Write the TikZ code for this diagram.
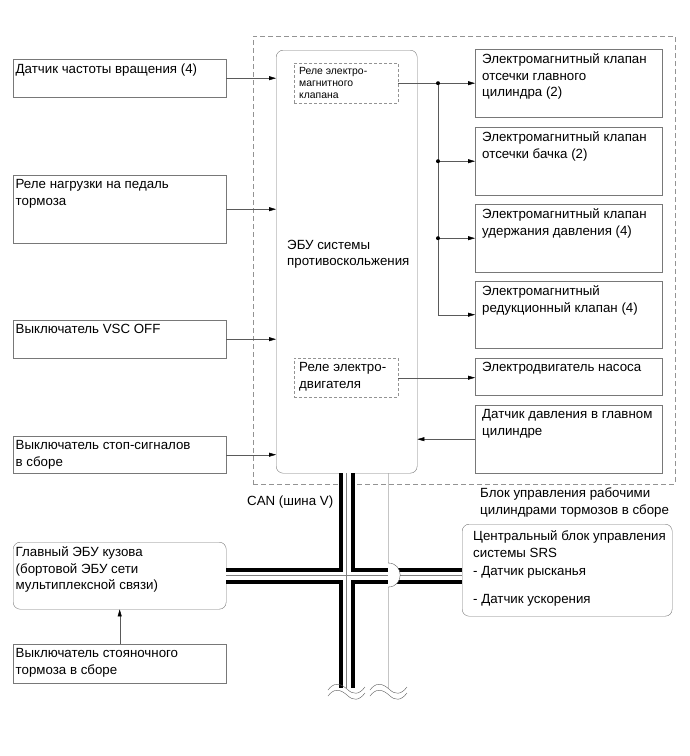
\documentclass[tikz,border=0pt]{standalone}
\usepackage{fontspec}
\setmainfont{Liberation Sans}
\usetikzlibrary{arrows.meta,calc}
\definecolor{framegray}{RGB}{120,120,120}
\definecolor{wiregray}{RGB}{90,90,90}

\begin{document}
\begin{tikzpicture}[x=1pt,y=-1pt,
 box/.style={draw=framegray,anchor=north west,inner sep=0pt,minimum width=213pt},
 rbox/.style={box,rounded corners=7pt},
 outbox/.style={box,minimum width=187pt},
 relay/.style={draw=framegray!80,dash pattern=on 3pt off 2pt,anchor=north west,inner sep=0pt,minimum width=104pt},
 lbl/.style={anchor=north west,align=left,inner sep=0pt,xshift=#1,yshift=-4.5pt,font=\fontsize{13.3}{16.5}\selectfont},
 lbl/.default=2.5pt,
 small/.style={lbl=5pt,font=\fontsize{10.4}{12}\selectfont},
 note/.style={anchor=north west,align=left,inner sep=0pt,font=\fontsize{13.3}{16.5}\selectfont},
 sig/.style={draw=wiregray,-{Triangle[length=7pt,width=4pt,color=black]}},
 wire/.style={draw=wiregray},
 dot/.style={circle,fill=black,inner sep=0pt,minimum size=4pt}
]
\useasboundingbox (0,0) rectangle (690,756);

% brake actuator assembly
\node[draw=framegray!80,dash pattern=on 5pt off 3pt,anchor=north west,inner sep=0pt,
 minimum width=422pt,minimum height=448pt] (unit) at (253,36) {};
\node[note] (unitLbl) at (480,488) {Блок управления рабочими\\цилиндрами тормозов в сборе};

% skid control ECU
\node[rbox,minimum width=141pt,minimum height=423pt] (ecu) at (276,50) {};
\node[note] (ecuTxt) at (287,240) {ЭБУ системы\\противоскольжения};
\node[relay,minimum height=40pt,label={[small]north west:{Реле электро-\\магнитного\\клапана}}] (relayV) at (294,63) {};
\node[relay,minimum height=39pt,label={[lbl=5pt]north west:{Реле электро-\\двигателя}}] (relayM) at (294,358) {};

% inputs
\node[box,minimum height=38pt,label={[lbl]north west:{Датчик частоты вращения (4)}}] (spd) at (13,59) {};
\node[box,minimum height=68pt,label={[lbl]north west:{Реле нагрузки на педаль\\тормоза}}] (pedal) at (13,175) {};
\node[box,minimum height=38pt,label={[lbl]north west:{Выключатель VSC OFF}}] (vsc) at (13,320) {};
\node[box,minimum height=37pt,label={[lbl]north west:{Выключатель стоп-сигналов\\в сборе}}] (stop) at (13,436) {};
\foreach \n in {spd,pedal,vsc,stop}
 \draw[sig] (\n.east) -- (\n.east -| ecu.west);

% solenoids and pump
\node[outbox,minimum height=68pt,label={[lbl=7pt]north west:{Электромагнитный клапан\\отсечки главного\\цилиндра (2)}}] (cutM) at (475,49) {};
\node[outbox,minimum height=68pt,label={[lbl=7pt]north west:{Электромагнитный клапан\\отсечки бачка (2)}}] (cutR) at (475,127) {};
\node[outbox,minimum height=68pt,label={[lbl=7pt]north west:{Электромагнитный клапан\\удержания давления (4)}}] (hold) at (475,204) {};
\node[outbox,minimum height=67pt,label={[lbl=7pt]north west:{Электромагнитный\\редукционный клапан (4)}}] (red) at (475,281) {};
\node[outbox,minimum height=37pt,label={[lbl=7pt]north west:{Электродвигатель насоса}}] (pump) at (475,358) {};
\node[outbox,minimum height=68pt,label={[lbl=7pt]north west:{Датчик давления в главном\\цилиндре}}] (press) at (475,405) {};

\coordinate (jn) at (438,0);
\draw[wire] (relayV.east) -- (relayV.east -| jn) -- (jn |- red.west);
\draw[sig] (relayV.east -| jn) -- (relayV.east -| cutM.west);
\foreach \n in {cutR,hold}
 \draw[sig] (jn |- \n.west) -- (\n.west);
\draw[sig] (jn |- red.west) -- (red.west);
\foreach \n in {cutM,cutR,hold}
 \node[dot] (d\n) at (jn |- \n.west) {};
\draw[sig] (relayM.east) -- (relayM.east -| pump.west);
\draw[sig] (press.west) -- (press.west -| ecu.east);

% body ECU and SRS
\node[rbox,minimum height=67pt,label={[lbl]north west:{Главный ЭБУ кузова\\(бортовой ЭБУ сети\\мультиплексной связи)}}] (bcm) at (13,542) {};
\node[box,minimum height=39pt,label={[lbl]north west:{Выключатель стояночного\\тормоза в сборе}}] (park) at (13,644) {};
\draw[sig] (park.north) -- (bcm.south);
\node[rbox,minimum width=210pt,minimum height=92pt,
 label={[lbl=11pt,yshift=-2pt]north west:{Центральный блок управления\\системы SRS\\[1.5pt]- Датчик рысканья\\[12pt]- Датчик ускорения}}] (srs) at (462,524) {};

% CAN bus
\node[note] (canLbl) at (247,496) {CAN (шина V)};
\coordinate (busEnd) at ($(ecu.south)+(0,215)$);
\foreach \w/\c in {16pt/black,8pt/white,0.6pt/gray}{
 \draw[line width=\w,\c] (ecu.south) -- (busEnd);
 \draw[line width=\w,\c] (bcm.east) -- (bcm.east -| srs.west);
}
\coordinate (auxTop) at ($(ecu.south)+(41.5,0)$);
\coordinate (auxEnd) at ($(auxTop)+(0,215)$);
\coordinate (hopA) at (auxTop |- 0,563);
\coordinate (hopB) at (auxTop |- 0,587);
\fill[white] (hopA) .. controls ($(hopA)+(16,0)$) and ($(hopB)+(16,0)$) .. (hopB) -- cycle;
\draw[wire] (auxTop) -- (hopA) .. controls ($(hopA)+(16,0)$) and ($(hopB)+(16,0)$) .. (hopB) -- (auxEnd);

% breaks
\foreach \x in {328,370}
 \foreach \dy in {0,6}
 \draw[wiregray] (\x,{690+\dy}) .. controls (\x+6,{682+\dy}) and (\x+12,{683+\dy}) .. (\x+19,{689+\dy})
 .. controls (\x+25,{695+\dy}) and (\x+31,{695+\dy}) .. (\x+37,{687+\dy});
\end{tikzpicture}
\end{document}
